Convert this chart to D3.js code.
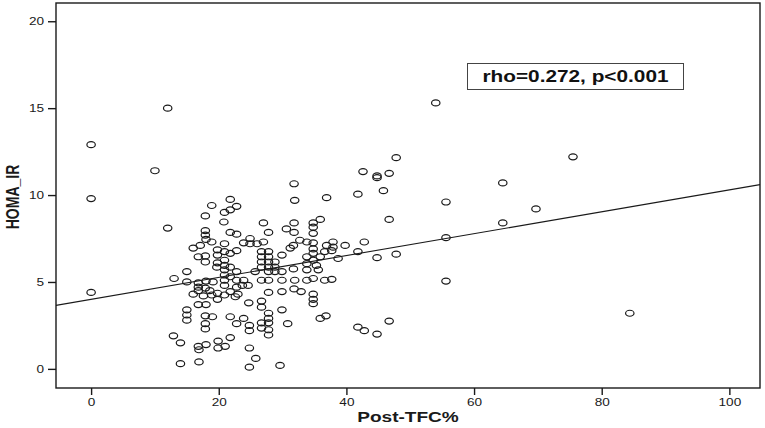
<!DOCTYPE html>
<html>
<head>
<meta charset="utf-8">
<script src="https://cdn.jsdelivr.net/npm/d3@7"></script>
<style>
  html, body { margin: 0; padding: 0; background: #fff; }
  svg { display: block; }
</style>
</head>
<body>
<svg id="chart" width="765" height="428"></svg>
<script>
// ---- data ----
const xTicks = [0, 20, 40, 60, 80, 100];
const yTicks = [0, 5, 10, 15, 20];
const xTitle = "Post-TFC%";
const yTitle = "HOMA_IR";
const annotation = "rho=0.272, p<0.001";
const fitIntercept = 4.0;
const fitSlope = 0.063;

// [Post-TFC%, HOMA_IR]
const observations = [
  [0,12.9],[0,9.8],[0,4.4],[12,15],[10,11.4],[12,8.1],[13,5.2],[15,5.6],[15,5.0],[16,4.3],
  [16,6.95],[16.8,6.45],[15,3.4],[15,3.1],[15,2.8],[12.9,1.9],[14,1.5],[14,0.3],[16.8,3.7],
  [16.8,1.3],[16.9,1.1],[16.9,0.4],
  [17.9,8.8],[17.9,7.95],[17.9,7.7],[18,7.45],[17.1,7.1],[18.9,7.3],[18.9,9.4],[17.9,6.5],
  [17.9,6.15],[18,5.05],[16.8,4.95],[16.8,4.7],[16.8,4.5],[17.9,4.65],[18.6,4.5],[18.9,4.25],
  [17.6,4.2],[19.1,5.0],[18,3.7],[17.9,3.05],[19,3.0],[17.9,2.6],[17.9,2.3],[18,1.4],
  [20.9,9.0],[21.8,9.15],[22.8,9.35],[21.8,9.75],[20.8,8.45],[21.8,7.85],[22.8,7.75],[20.9,7.2],
  [19.8,6.85],[19.8,6.55],[20.9,6.75],[21.8,6.65],[22.8,6.8],[19.8,6.1],[20.9,6.25],[20.9,5.95],
  [20.9,5.7],[20.9,5.4],[20.9,5.1],[20.9,4.8],[19.7,5.85],[21.8,5.85],[22.8,5.6],[21.8,5.3],
  [22.8,5.1],[19.8,4.35],[19.8,4.0],[20.9,4.25],[21.8,4.45],[22.6,4.15],[22.8,4.7],[21.8,3.0],
  [22.8,2.6],[19.9,1.6],[21,1.3],[19.9,1.2],[21.8,1.8],
  [23.9,7.25],[24.9,7.5],[24.9,7.2],[26,7.2],[27,7.3],[23.9,5.1],[23.7,4.8],[24.6,4.8],[23,4.3],
  [24.7,3.8],[23.9,2.9],[24.8,2.5],[24.8,2.2],[24.8,1.2],[25.8,0.6],[24.8,0.1],[25.7,5.6],
  [27,8.4],[27.8,7.85],[26.7,6.75],[27.8,6.75],[26.7,6.45],[27.8,6.45],[26.7,6.15],[27.8,6.15],
  [28.8,6.15],[29.9,6.55],[26.7,5.85],[27.8,5.85],[28.8,5.85],[27.8,5.6],[28.8,5.6],[29.9,5.6],
  [26.7,5.1],[27.8,5.1],[29.9,5.1],[27.8,4.4],[29.9,4.45],[26.7,3.9],[26.7,3.55],[29.9,3.4],
  [27.8,3.2],[27.8,2.9],[27.8,2.65],[26.7,2.65],[26.7,2.35],[27.8,2.25],[27.8,1.95],[30.8,2.6],
  [29.6,0.2],
  [31.9,9.7],[31.8,10.65],[30.6,8.05],[31.8,8.4],[31.8,7.85],[31.7,7.1],[31.2,6.95],[32.7,7.4],
  [31.7,5.75],[31.9,5.1],[31.8,4.6],[32.9,4.45],
  [34.8,8.4],[34.8,8.15],[35.9,8.6],[34.8,7.8],[33.8,7.3],[34.8,7.25],[34.8,6.9],[34.8,6.65],
  [33.8,6.45],[33.8,6.05],[34.8,6.25],[35.3,5.95],[35.9,6.45],[33.8,5.7],[35.6,5.7],[33.8,5.1],
  [34.8,5.2],[34.8,4.3],[34.8,4.0],[34.8,3.75],[35.9,2.9],[36.8,3.05],[36.9,9.85],[36.9,7.1],
  [37.9,7.3],[37.9,7.0],[37.7,6.8],[36.6,6.75],[38.7,6.35],[36.6,5.1],[37.7,5.15],[39.8,7.1],
  [41.8,6.75],[42.8,7.3],[44.8,6.4],[47.8,6.6],[41.8,10.05],[42.6,11.35],[44.8,11.0],[44.8,11.1],
  [46.7,11.25],[45.8,10.25],[47.8,12.15],[46.7,8.6],[55.6,9.6],[55.6,7.55],[55.6,5.05],[46.7,2.75],
  [41.8,2.4],[42.8,2.2],[44.8,2.0],[54,15.3],[64.5,10.7],[64.5,8.4],[69.7,9.2],[75.5,12.2],[84.4,3.2]
];

// ---- layout ----
const plot = { left: 56, right: 760, top: 3, bottom: 388 };
const stretch = 1.36; // reference is horizontally stretched
const ink = "#1a1a1a";

const svg = d3.select("#chart");

const x = d3.scaleLinear().domain([-5.5, 104.8]).range([plot.left, plot.right]);
const y = d3.scaleLinear().domain([-1.1, 21.05]).range([plot.bottom, plot.top]);

// frame
svg.append("rect")
  .attr("x", plot.left).attr("y", plot.top)
  .attr("width", plot.right - plot.left).attr("height", plot.bottom - plot.top)
  .attr("fill", "none").attr("stroke", ink).attr("stroke-width", 1.4);

// axes
const yAxis = svg.append("g")
  .attr("transform", `translate(${plot.left},0)`)
  .call(d3.axisLeft(y).tickValues(yTicks).tickSize(8).tickPadding(4).tickSizeOuter(0));
const xAxis = svg.append("g")
  .attr("transform", `translate(0,${plot.bottom})`)
  .call(d3.axisBottom(x).tickValues(xTicks).tickSize(7).tickPadding(4).tickSizeOuter(0));

[yAxis, xAxis].forEach(g => {
  g.select(".domain").remove();
  g.selectAll(".tick line").attr("stroke", ink).attr("stroke-width", 1.4);
  g.selectAll(".tick text")
    .attr("fill", ink)
    .style("font-family", "'Liberation Sans', Arial, sans-serif")
    .style("font-size", "10px");
});
yAxis.selectAll(".tick text")
  .attr("x", -12 / stretch)
  .attr("transform", `scale(${stretch},1)`);
xAxis.selectAll(".tick text")
  .attr("transform", `scale(${stretch},1)`);

// fit line
const xd = x.domain();
svg.append("line")
  .attr("x1", x(xd[0])).attr("y1", y(fitIntercept + fitSlope * xd[0]))
  .attr("x2", x(xd[1])).attr("y2", y(fitIntercept + fitSlope * xd[1]))
  .attr("stroke", ink).attr("stroke-width", 1.1);

// points
svg.append("g").selectAll("ellipse")
  .data(observations)
  .join("ellipse")
  .attr("cx", d => x(d[0]))
  .attr("cy", d => y(d[1]))
  .attr("rx", 4.2).attr("ry", 3.0)
  .attr("fill", "none")
  .attr("stroke", ink)
  .attr("stroke-width", 1.2);

// axis titles
svg.append("text")
  .attr("transform", `translate(${(plot.left + plot.right) / 2},422) scale(${stretch},1)`)
  .attr("text-anchor", "middle")
  .style("font-family", "'Liberation Sans', Arial, sans-serif")
  .style("font-weight", "bold").style("font-size", "14px")
  .attr("fill", ink)
  .text(xTitle);

svg.append("text")
  .attr("transform", `translate(19,197) scale(${stretch},1) rotate(-90)`)
  .attr("text-anchor", "middle")
  .style("font-family", "'Liberation Sans', Arial, sans-serif")
  .style("font-weight", "bold").style("font-size", "14px")
  .attr("fill", ink)
  .text(yTitle);

// annotation box
const ann = svg.append("g");
ann.append("rect")
  .attr("x", 467.5).attr("y", 63.5).attr("width", 216).attr("height", 26)
  .attr("fill", "#fff").attr("stroke", "#444").attr("stroke-width", 1);
ann.append("text")
  .attr("transform", `translate(575.5,82) scale(1.3,1)`)
  .attr("text-anchor", "middle")
  .style("font-family", "'Liberation Sans', Arial, sans-serif")
  .style("font-weight", "bold").style("font-size", "16px")
  .attr("fill", "#111")
  .text(annotation);
</script>
</body>
</html>
